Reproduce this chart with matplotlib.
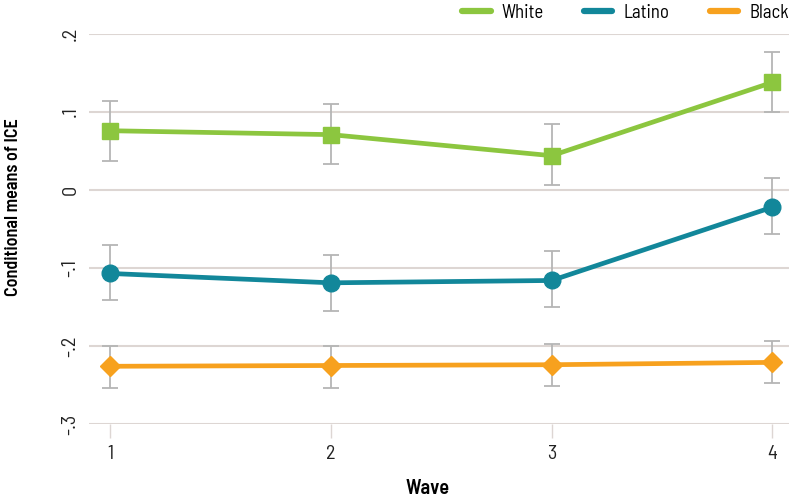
import matplotlib
matplotlib.use("Agg")
import matplotlib.pyplot as plt
from matplotlib.lines import Line2D

waves = [1, 2, 3, 4]

white_mean = [0.076, 0.071, 0.044, 0.138]
white_lo = [0.037, 0.033, 0.007, 0.100]
white_hi = [0.114, 0.110, 0.084, 0.177]

latino_mean = [-0.107, -0.119, -0.116, -0.022]
latino_lo = [-0.141, -0.155, -0.150, -0.056]
latino_hi = [-0.070, -0.083, -0.078, 0.015]

black_mean = [-0.226, -0.225, -0.224, -0.221]
black_lo = [-0.254, -0.254, -0.251, -0.248]
black_hi = [-0.200, -0.200, -0.197, -0.193]

ytick_vals = [0.2, 0.1, 0.0, -0.1, -0.2, -0.3]
ytick_labels = [".2", ".1", "0", "-.1", "-.2", "-.3"]

plt.rcParams["font.family"] = ["Barlow Semi Condensed", "DejaVu Sans"]

W, H = 790, 499
fig = plt.figure(figsize=(W / 100, H / 100), dpi=100)
ax = fig.add_axes([89 / W, 1 - 424 / H, 700 / W, 390 / H])

series = [
    ("White", white_mean, white_lo, white_hi, "#8CC63F", "s", 11),
    ("Latino", latino_mean, latino_lo, latino_hi, "#12879A", "o", 12),
    ("Black", black_mean, black_lo, black_hi, "#F7A11E", "D", 10),
]

for name, m, lo, hi, col, mk, ms in series:
    err = [[a - b for a, b in zip(m, lo)], [b - a for a, b in zip(m, hi)]]
    ax.errorbar(waves, m, yerr=err, fmt="none", ecolor="#B5B5B5",
                elinewidth=1.3, capsize=6, capthick=1.3, zorder=2)
    ax.plot(waves, m, color=col, lw=3.4, marker=mk, markersize=ms,
            solid_capstyle="round", zorder=3, label=name)

ax.set_xlim(0.905, 4.075)
ax.set_ylim(-0.3, 0.2)
ax.set_yticks(ytick_vals)
ax.set_yticklabels(ytick_labels, rotation=90, va="center", fontsize=14.5, color="#222222")
ax.set_xticks(waves)
ax.set_xticklabels([str(w) for w in waves], fontsize=14.5, color="#222222")
ax.tick_params(axis="y", length=0, pad=7)
ax.tick_params(axis="x", length=10, width=1, color="#DDD6D3", pad=5)

ax.grid(axis="y", color="#DDD6D3", lw=1.5, zorder=0)
ax.set_axisbelow(True)
for s in ax.spines.values():
    s.set_visible(False)

ax.set_ylabel("Conditional means of ICE", fontsize=13, fontweight="semibold")
ax.set_xlabel("Wave", fontsize=14.5, fontweight="semibold")
ax.yaxis.set_label_coords(-75 / 700, (424 - 207) / 390)
ax.xaxis.set_label_coords((428 - 89) / 700, -(489 - 424) / 390)
ax.yaxis.label.set_va("center")
ax.xaxis.label.set_va("center")

leg_handles = [Line2D([0], [0], color=s[4], lw=4.5, solid_capstyle="round")
               for s in series]
fig.legend(leg_handles, [s[0] for s in series], loc="center right",
           bbox_to_anchor=(789 / W, 1 - 13 / H), ncol=3, frameon=False,
           fontsize=13.5, handlelength=1.5, handletextpad=0.6,
           columnspacing=2.15, borderpad=0, borderaxespad=0)

fig.savefig("out.png", dpi=100)
